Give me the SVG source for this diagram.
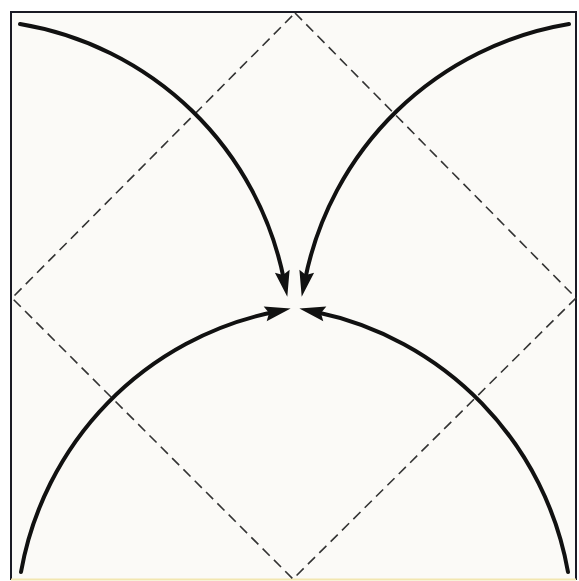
<svg xmlns="http://www.w3.org/2000/svg" width="579" height="581" viewBox="0 0 579 581">
  <style>
    .dash { fill: none; stroke: #333; stroke-width: 1.6; stroke-dasharray: 10 6; }
    .arc { fill: none; stroke: #111; stroke-width: 4; stroke-linecap: round; marker-end: url(#arrow); }
    .frame { stroke: #1a1a24; stroke-width: 2; }
  </style>
  <defs>
    <marker id="arrow" markerUnits="userSpaceOnUse" viewBox="-10 -8 30 16" refX="0" refY="0" markerWidth="30" markerHeight="16" orient="auto" overflow="visible">
      <path d="M17,0 L-9,-7.5 L-5,0 L-9,7.5 Z" fill="#111"/>
    </marker>
  </defs>
  <rect x="0" y="0" width="579" height="581" fill="#ffffff"/>
  <rect x="11" y="12" width="565" height="567" fill="#fbfaf7"/>
  <g id="frame">
    <line class="frame" x1="10" y1="12" x2="577" y2="12"/>
    <line class="frame" x1="11" y1="12" x2="11" y2="580"/>
    <line class="frame" x1="576" y1="12" x2="576" y2="580"/>
    <line x1="11" y1="579.5" x2="576" y2="579.5" stroke="#f2e6b0" stroke-width="2"/>
  </g>
  <g id="diamond">
    <path class="dash" d="M295,13 L576,298 L293,579 L12,298 Z"/>
  </g>
  <g id="connectors">
    <path id="arc-top-left" class="arc" d="M20,24 A323,323 0 0 1 284,280"/>
    <path id="arc-top-right" class="arc" d="M569,24 A323,323 0 0 0 305,280"/>
    <path id="arc-bottom-left" class="arc" d="M21,572 A323,323 0 0 1 274,312"/>
    <path id="arc-bottom-right" class="arc" d="M568,572 A323,323 0 0 0 316,312"/>
  </g>
</svg>
